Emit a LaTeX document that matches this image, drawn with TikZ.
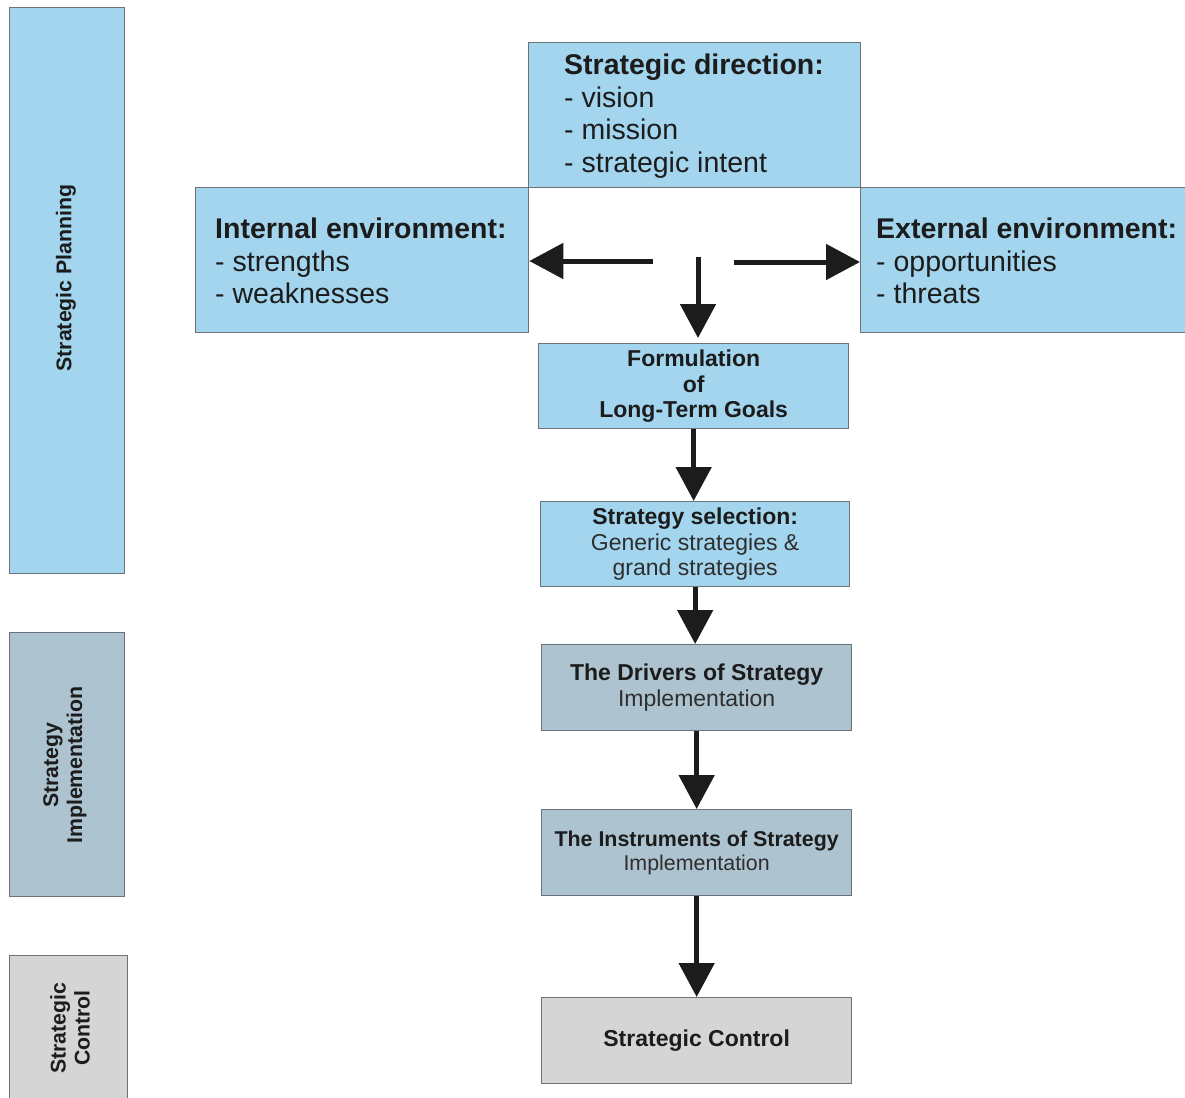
\documentclass[tikz,border=0pt]{standalone}
\usepackage{fontspec}
\setmainfont{Liberation Sans}
\usetikzlibrary{arrows.meta}
\definecolor{lblue}{HTML}{A3D6EE}
\definecolor{gblue}{HTML}{ADC3CF}
\definecolor{lgray}{HTML}{D5D5D5}
\definecolor{edge}{HTML}{6B7378}
\definecolor{ink}{HTML}{1C1C1C}
\definecolor{ink2}{HTML}{2E2E2E}
\begin{document}
\begin{tikzpicture}[x=1pt,y=-1pt,
  box/.style={draw=edge, line width=1.3pt, inner sep=0pt, anchor=north west, text=ink},
  bluebox/.style={box, fill=lblue},
  greybluebox/.style={box, fill=gblue},
  greybox/.style={box, fill=lgray},
  bigtxt/.style={text=ink, inner sep=0pt, anchor=west, align=left, font=\fontsize{28.5}{32.5}\selectfont},
  smalltxt/.style={align=center, font=\fontsize{23}{25.5}\selectfont},
  bartxt/.style={text=ink, inner sep=0pt, rotate=90, align=center, font=\fontsize{21.3}{24}\selectfont\bfseries},
  arr/.style={line width=5pt, draw=ink, -{Triangle[length=34pt,width=35pt]}}
]
\useasboundingbox (0,0) rectangle (1185,1097);
\fill[white] (0,0) rectangle (1185,1097);

% left bars
\node[bluebox, minimum width=115pt, minimum height=566pt] (barplan) at (9,7) {};
\node[bartxt] (barplantxt) at (66,278) {Strategic Planning};
\node[greybluebox, minimum width=115pt, minimum height=264pt] (barimpl) at (9,632) {};
\node[bartxt] (barimpltxt) at (65,765) {Strategy\\Implementation};
\node[greybox, minimum width=118pt, minimum height=150pt] (barctrl) at (9,955) {};
\node[bartxt] (barctrltxt) at (70,1028) {Strategic\\Control};

% top boxes
\node[bluebox, minimum width=332pt, minimum height=145pt] (dir) at (528,42) {};
\node[bigtxt] (dirtxt) at ([xshift=36pt,yshift=-1pt]dir.west) {\textbf{Strategic direction:}\\- vision\\- mission\\- strategic intent};
\node[bluebox, minimum width=333pt, minimum height=145pt] (int) at (195,187) {};
\node[bigtxt] (inttxt) at ([xshift=20pt,yshift=-1pt]int.west) {\textbf{Internal environment:}\\- strengths\\- weaknesses};
\node[bluebox, minimum width=330pt, minimum height=145pt] (ext) at (860,187) {};
\node[bigtxt] (exttxt) at ([xshift=16pt,yshift=-1pt]ext.west) {\textbf{External environment:}\\- opportunities\\- threats};

% flow boxes
\node[bluebox, smalltxt, minimum width=310pt, minimum height=85pt] (form) at (538,343) {\textbf{Formulation}\\\textbf{of}\\\textbf{Long-Term Goals}};
\node[bluebox, smalltxt, minimum width=309pt, minimum height=85pt] (sel) at (540,501) {\textbf{Strategy selection:}\\\textcolor{ink2}{Generic strategies \&}\\\textcolor{ink2}{grand strategies}};
\node[greybluebox, smalltxt, minimum width=310pt, minimum height=86pt] (drv) at (541,644) {\textbf{The Drivers of Strategy}\\\textcolor{ink2}{Implementation}};
\node[greybluebox, smalltxt, font=\fontsize{21.4}{24}\selectfont, minimum width=310pt, minimum height=86pt] (ins) at (541,809) {\textbf{The Instruments of Strategy}\\\textcolor{ink2}{Implementation}};
\node[greybox, smalltxt, minimum width=310pt, minimum height=86pt] (ctl) at (541,997) {\textbf{Strategic Control}};

% arrows
\coordinate (la) at (653,261);
\coordinate (ra) at (734,262);
\coordinate (da) at (698,257);
\draw[arr] (la) -- (int.east |- la);
\draw[arr] (ra) -- (ext.west |- ra);
\draw[arr, shorten >=5pt] (da) -- (form.north -| da);
\draw[arr] (form.south) -- (form.south |- sel.north);
\draw[arr] (sel.south) -- (sel.south |- drv.north);
\draw[arr] (drv.south) -- (drv.south |- ins.north);
\draw[arr] (ins.south) -- (ins.south |- ctl.north);
\end{tikzpicture}
\end{document}
